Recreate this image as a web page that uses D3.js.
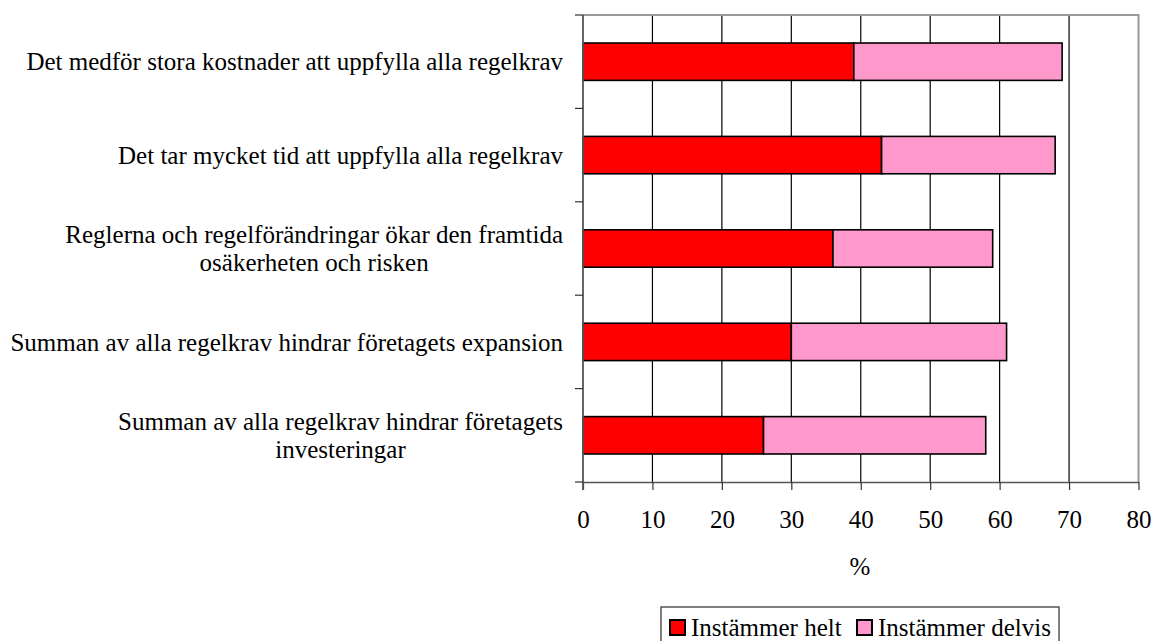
<!DOCTYPE html>
<html><head><meta charset="utf-8">
<script src="https://cdn.jsdelivr.net/npm/d3@7"></script>
<style>
html,body{margin:0;padding:0;background:#fff;}
svg{display:block;font-family:"Liberation Serif","Times New Roman",serif;}
</style></head>
<body>
<svg id="chart" width="1153" height="641"></svg>
<script>
const categories = [
  ["Det medför stora kostnader att uppfylla alla regelkrav"],
  ["Det tar mycket tid att uppfylla alla regelkrav"],
  ["Reglerna och regelförändringar ökar den framtida", "osäkerheten och risken"],
  ["Summan av alla regelkrav hindrar företagets expansion"],
  ["Summan av alla regelkrav hindrar företagets", "investeringar"]
];
const seriesNames = ["Instämmer helt", "Instämmer delvis"];
const helt = [39, 43, 36, 30, 26];
const delvis = [30, 25, 23, 31, 32];
const xTicks = [0, 10, 20, 30, 40, 50, 60, 70, 80];
const colors = ["#FF0000", "#FF99CC"];

const svg = d3.select("#chart");
const L = 583, R = 1138.5, T = 15, B = 482;
const FS = 25;

const x = d3.scaleLinear().domain([0, 80]).range([L, R]);
const y = d3.scaleBand().domain(d3.range(categories.length)).range([T, B]).paddingInner(0.6).paddingOuter(0.3);

// gridlines
svg.append("g").selectAll("line").data(xTicks.slice(1, -1)).join("line")
  .attr("x1", d => x(d)).attr("x2", d => x(d)).attr("y1", T).attr("y2", B)
  .attr("stroke", "#000").attr("stroke-width", 1.2);

// top and right border (grey)
svg.append("path").attr("d", `M${L},${T}H${R}V${B}`).attr("fill", "none")
  .attr("stroke", "#999").attr("stroke-width", 2);

// bars
const stackData = categories.map((c, i) => ({i, a: helt[i], b: delvis[i]}));
const gb = svg.append("g");
stackData.forEach(d => {
  gb.append("rect").attr("x", x(0)).attr("y", y(d.i)).attr("width", x(d.a) - x(0)).attr("height", y.bandwidth())
    .attr("fill", colors[0]).attr("stroke", "#000").attr("stroke-width", 1.6);
  gb.append("rect").attr("x", x(d.a)).attr("y", y(d.i)).attr("width", x(d.a + d.b) - x(d.a)).attr("height", y.bandwidth())
    .attr("fill", colors[1]).attr("stroke", "#000").attr("stroke-width", 1.6);
});

// bottom axis
const xAxis = d3.axisBottom(x).tickValues(xTicks).tickSize(8).tickSizeOuter(0).tickPadding(20);
const gx = svg.append("g").attr("transform", `translate(0,${B})`).call(xAxis);
gx.select(".domain").attr("stroke", "#555").attr("stroke-width", 1.5);
gx.selectAll(".tick line").attr("stroke", "#333").attr("stroke-width", 1.2);
gx.selectAll("text").attr("font-size", FS).attr("font-family", "Liberation Serif").attr("fill", "#000");

// left axis (category separators)
const bandEdges = d3.range(categories.length + 1).map(i => T + i * (B - T) / categories.length);
svg.append("line").attr("x1", L).attr("x2", L).attr("y1", T).attr("y2", B + 8)
  .attr("stroke", "#555").attr("stroke-width", 1.8);
svg.append("g").selectAll("line").data(bandEdges).join("line")
  .attr("x1", L - 8).attr("x2", L).attr("y1", d => d).attr("y2", d => d)
  .attr("stroke", "#333").attr("stroke-width", 1.2);

// category labels
const lineH = 28;
categories.forEach((lines, i) => {
  const cy = y(i) + y.bandwidth() / 2;
  const g = svg.append("g");
  const texts = lines.map((ln, j) => g.append("text").text(ln)
    .attr("font-size", FS).attr("fill", "#000")
    .attr("y", cy + (j - (lines.length - 1) / 2) * lineH).attr("dy", "0.35em"));
  const maxW = d3.max(texts, t => t.node().getComputedTextLength());
  const cx = 563 - maxW / 2;
  texts.forEach(t => t.attr("x", cx).attr("text-anchor", "middle"));
});

// x axis title
svg.append("text").text("%").attr("x", 860).attr("y", 566).attr("dy", "0.35em")
  .attr("text-anchor", "middle").attr("font-size", FS).attr("fill", "#000");

// legend
const lg = svg.append("g");
lg.append("rect").attr("x", 661).attr("y", 607).attr("width", 398).attr("height", 44)
  .attr("fill", "#fff").attr("stroke", "#000").attr("stroke-width", 1);
const legX = [670, 857];
seriesNames.forEach((n, i) => {
  lg.append("rect").attr("x", legX[i]).attr("y", 620).attr("width", 15).attr("height", 15)
    .attr("fill", colors[i]).attr("stroke", "#000").attr("stroke-width", 2);
  lg.append("text").text(n).attr("x", legX[i] + 21).attr("y", 627).attr("dy", "0.35em")
    .attr("font-size", FS).attr("fill", "#000");
});
</script>
</body></html>
